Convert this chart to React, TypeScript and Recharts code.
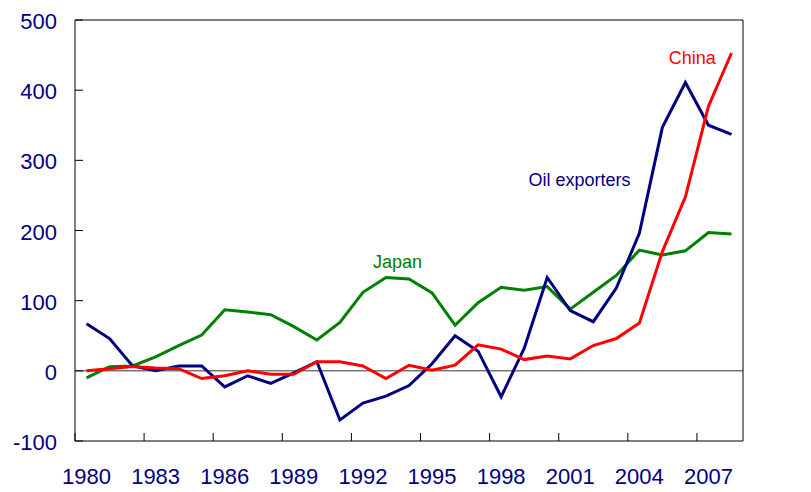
import { LineChart, Line, XAxis, YAxis, ReferenceLine, ReferenceDot } from 'recharts';

const years = [
  1980, 1981, 1982, 1983, 1984, 1985, 1986, 1987, 1988, 1989,
  1990, 1991, 1992, 1993, 1994, 1995, 1996, 1997, 1998, 1999,
  2000, 2001, 2002, 2003, 2004, 2005, 2006, 2007, 2008,
];

const japan = [
  -10, 6, 7, 20, 36, 51, 87, 84, 80, 63,
  44, 69, 112, 133, 131, 111, 65, 97, 119, 115,
  120, 88, 112, 136, 172, 165, 171, 197, 195,
];

const oilExporters = [
  67, 46, 7, 0, 7, 7, -23, -7, -18, -3,
  13, -70, -46, -36, -21, 10, 50, 28, -37, 32,
  133, 86, 70, 118, 196, 347, 411, 350, 337,
];

const china = [
  0, 3, 6, 4, 3, -11, -7, 0, -5, -5,
  13, 13, 7, -11, 8, 1, 8, 37, 31, 16,
  21, 17, 36, 46, 68, 170, 248, 377, 453,
];

const xTickLabels = ['1980', '1983', '1986', '1989', '1992', '1995', '1998', '2001', '2004', '2007'];
const yTicks = [-100, 0, 100, 200, 300, 400, 500];

const data = years.map((year, i) => ({
  year,
  japan: japan[i],
  oil: oilExporters[i],
  china: china[i],
}));

const NAVY = '#000080';
const FONT = '"Liberation Sans", Arial, sans-serif';
const PLOT_W = 668;
const HALF_BAND = PLOT_W / years.length / 2;

function LeftTick({ x, y, payload }: any) {
  return (
    <g>
      <line x1={x} x2={x + 8} y1={y} y2={y} stroke="#000" />
      <text x={x - 18} y={y} dy={9} textAnchor="end" fill={NAVY} fontSize={22} fontFamily={FONT}>
        {payload.value}
      </text>
    </g>
  );
}

function RightTick({ x, y, payload }: any) {
  return (
    <g>
      <line x1={x - 8} x2={x} y1={y} y2={y} stroke="#000" />
      <text x={x + 18} y={y} dy={9} textAnchor="start" fill={NAVY} fontSize={22} fontFamily={FONT}>
        {payload.value}
      </text>
    </g>
  );
}

function BottomTick({ x, y, payload }: any) {
  const tx = x - HALF_BAND;
  return (
    <g>
      <line x1={tx} x2={tx} y1={y} y2={y - 8} stroke="#000" />
      <text x={x} y={y + 43} textAnchor="middle" fill={NAVY} fontSize={22} fontFamily={FONT}>
        {payload.value}
      </text>
    </g>
  );
}

function seriesLabel(text: string, color: string) {
  return (props: any) => (
    <text x={props.cx} y={props.cy} textAnchor="middle" fill={color} fontSize={18} fontFamily={FONT}>
      {text}
    </text>
  );
}

export default function App() {
  return (
    <div style={{ position: 'absolute', left: 0, top: 0, background: '#fff' }}>
      <LineChart width={811} height={492} data={data} margin={{ top: 20, right: 0, bottom: 0, left: 0 }}>
        <XAxis
          dataKey="year"
          type="number"
          domain={[1979.5, 2008.5]}
          ticks={xTickLabels.map(Number)}
          interval={0}
          height={51}
          tickSize={0}
          tickMargin={0}
          tickLine={false}
          axisLine={{ stroke: '#000' }}
          tick={<BottomTick />}
        />
        <YAxis
          yAxisId="left"
          orientation="left"
          width={75}
          domain={[-100, 500]}
          ticks={yTicks}
          interval={0}
          tickSize={0}
          tickMargin={0}
          tickLine={false}
          axisLine={{ stroke: '#000' }}
          tick={<LeftTick />}
        />
        <YAxis
          yAxisId="right"
          orientation="right"
          width={68}
          domain={[-100, 500]}
          ticks={yTicks}
          interval={0}
          tickSize={0}
          tickMargin={0}
          tickLine={false}
          axisLine={{ stroke: '#000' }}
          tick={<RightTick />}
        />
        <ReferenceLine yAxisId="left" y={500} stroke="#000" />
        <ReferenceLine yAxisId="left" y={0} stroke="#333" />
        <Line yAxisId="left" type="linear" dataKey="japan" stroke="#008000" strokeWidth={3} dot={false} isAnimationActive={false} />
        <Line yAxisId="left" type="linear" dataKey="oil" stroke={NAVY} strokeWidth={3} dot={false} isAnimationActive={false} />
        <Line yAxisId="left" type="linear" dataKey="china" stroke="#ff0000" strokeWidth={3} dot={false} isAnimationActive={false} />
        <ReferenceDot yAxisId="left" x={2006.3} y={437} r={0} shape={seriesLabel('China', '#ff0000')} />
        <ReferenceDot yAxisId="left" x={2001.4} y={264} r={0} shape={seriesLabel('Oil exporters', NAVY)} />
        <ReferenceDot yAxisId="left" x={1993.5} y={147} r={0} shape={seriesLabel('Japan', '#008000')} />
      </LineChart>
    </div>
  );
}
